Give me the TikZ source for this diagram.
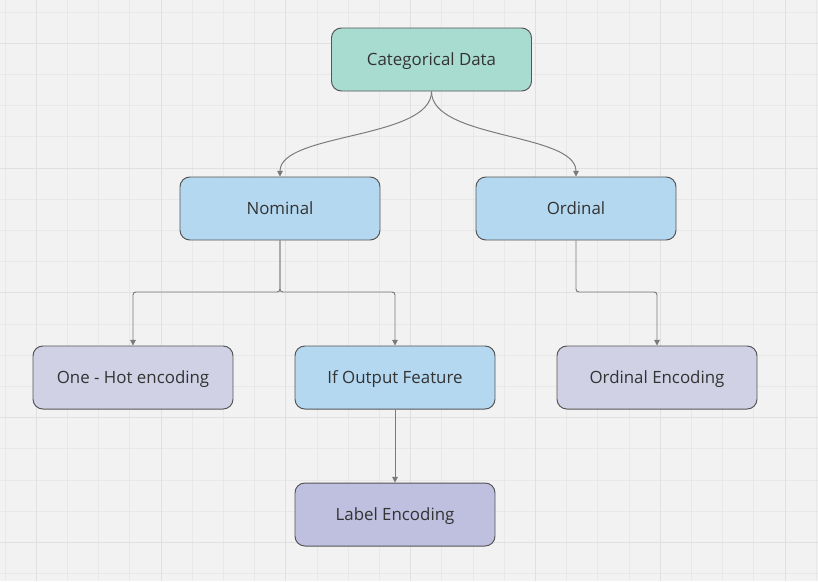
\documentclass[tikz,border=0pt]{standalone}
\usepackage{fontspec}
\setmainfont{Open Sans}
\usetikzlibrary{arrows.meta}
\definecolor{bgcol}{HTML}{F2F2F2}
\definecolor{gridminor}{HTML}{E8E8E8}
\definecolor{gridmajor}{HTML}{E0E0E0}
\definecolor{tealfill}{HTML}{A9DCD0}
\definecolor{bluefill}{HTML}{B4D8F0}
\definecolor{lavfill}{HTML}{D1D1E6}
\definecolor{purpfill}{HTML}{BFBFE0}
\definecolor{edgecol}{HTML}{555555}
\definecolor{linkcol}{HTML}{7A7A7A}
\definecolor{txtcol}{HTML}{333333}
\tikzset{
  box/.style={draw=edgecol, line width=0.7pt, rounded corners=7pt,
    minimum width=200*0.025cm, minimum height=63*0.025cm,
    text height=9pt, text depth=0pt,
    text=txtcol, font=\fontsize{12}{14}\selectfont},
  link/.style={draw=linkcol, line width=0.7pt,
    -{Triangle[width=4pt,length=4pt]}},
}
\begin{document}
\begin{tikzpicture}[x=0.025cm, y=-0.025cm]

% background and board grid
\fill[bgcol] (0,0) rectangle (818,581);
\useasboundingbox (0,0) rectangle (818,581);
\foreach \k in {0,...,26} {
  \draw[gridminor, line width=0.5pt] ({5+31.2*\k},0) -- ({5+31.2*\k},581);
}
\foreach \k in {0,...,18} {
  \draw[gridminor, line width=0.5pt] (0,{12+31.2*\k}) -- (818,{12+31.2*\k});
}
% slightly darker lines every 4 cells
\foreach \k in {0,...,6} {
  \draw[gridmajor, line width=0.7pt] ({36.2+124.8*\k},0) -- ({36.2+124.8*\k},581);
}
\foreach \k in {0,...,4} {
  \draw[gridmajor, line width=0.7pt] (0,{43.2+124.8*\k}) -- (818,{43.2+124.8*\k});
}

% top level
\node[box, fill=tealfill] (catdata) at (431.5,59.5) {Categorical Data};

% second level
\node[box, fill=bluefill] (nominal) at (280,208.5) {Nominal};
\node[box, fill=bluefill] (ordinal) at (576,208.5) {Ordinal};

% encodings
\node[box, fill=lavfill] (onehot) at (133,377.5) {One - Hot encoding};
\node[box, fill=bluefill] (ifout) at (395,377.5) {If Output Feature};
\node[box, fill=lavfill] (ordenc) at (657,377.5) {Ordinal Encoding};
\node[box, fill=purpfill] (labenc) at (395,514.5) {Label Encoding};

% curved links from the root
\draw[link] (catdata.south) .. controls +(0,48) and +(0,-44) .. (nominal.north);
\draw[link] (catdata.south) .. controls +(0,48) and +(0,-44) .. (ordinal.north);

% elbow links
\draw[link, rounded corners=2pt] (nominal.south) |- (onehot.north |- 0,292) -- (onehot.north);
\draw[link, rounded corners=2pt] (nominal.south) |- (ifout.north |- 0,292) -- (ifout.north);
\draw[link, rounded corners=2pt] (ordinal.south) |- (ordenc.north |- 0,292) -- (ordenc.north);
\draw[link] (ifout.south) -- (labenc.north);

\end{tikzpicture}
\end{document}
